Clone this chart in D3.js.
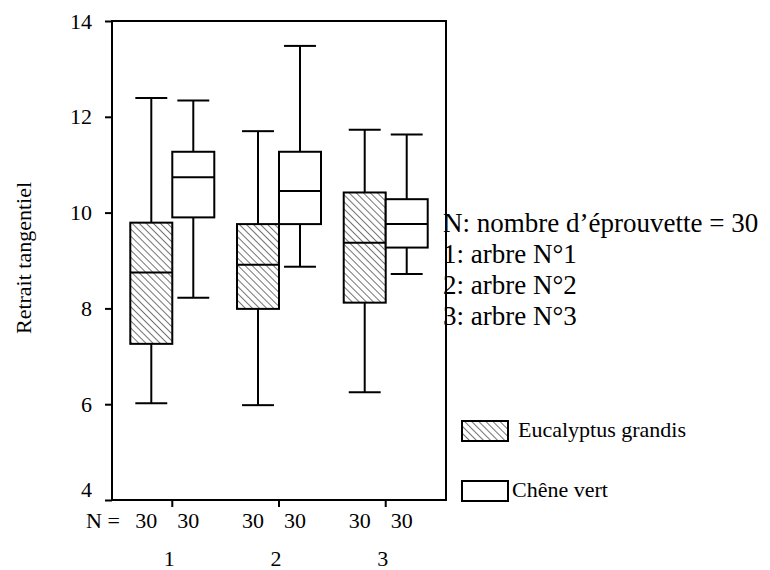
<!DOCTYPE html>
<html><head><meta charset="utf-8">
<script src="https://cdn.jsdelivr.net/npm/d3@7"></script>
<style>
body{margin:0;background:#fff}
text{font-family:"Liberation Serif","Times New Roman",serif;fill:#000}
</style>
</head><body>
<svg id="c" width="770" height="570"></svg>
<script>
// ---- data ----
const categories = ["1", "2", "3"];
const seriesNames = ["Eucalyptus grandis", "Chêne vert"];
// five-number summaries [min, q1, median, q3, max] per category
const eucalyptus = [
  [6.02, 7.26, 8.75, 9.79, 12.39],
  [5.98, 7.99, 8.91, 9.76, 11.70],
  [6.25, 8.12, 9.37, 10.42, 11.73]
];
const cheneVert = [
  [8.22, 9.90, 10.74, 11.27, 12.34],
  [8.87, 9.76, 10.45, 11.27, 13.48],
  [8.72, 9.27, 9.76, 10.28, 11.63]
];
const nCounts = [[30, 30], [30, 30], [30, 30]];
const yTicks = [4, 6, 8, 10, 12, 14];
const yTitle = "Retrait tangentiel";
const notes = ["N: nombre d\u2019éprouvette = 30", "1: arbre N°1", "2: arbre N°2", "3: arbre N°3"];

// ---- layout ----
const svg = d3.select("#c");
const L = 112, R = 446, T = 21, B = 500;
const y = d3.scaleLinear().domain([4, 14]).range([B, T]);
const x = d3.scaleBand().domain(categories).range([L, R]).paddingInner(0).paddingOuter(0.065);
const boxW = 42;
const xs = d3.scaleBand().domain(seriesNames).range([-boxW, boxW]);

const defs = svg.append("defs");
const pat = defs.append("pattern").attr("id", "hatch").attr("patternUnits", "userSpaceOnUse")
  .attr("width", 5).attr("height", 5).attr("patternTransform", "rotate(-45)");
pat.append("rect").attr("width", 5).attr("height", 5).attr("fill", "#fff");
pat.append("line").attr("x1", 0).attr("y1", 0).attr("x2", 0).attr("y2", 5)
  .attr("stroke", "#000").attr("stroke-width", 1.1);

// notes (drawn before frame so the frame line overlays them)
svg.append("g").selectAll("text").data(notes).join("text")
  .attr("x", 443).attr("y", (d, i) => 232 + i * 31)
  .attr("font-size", 27).text(d => d);

// boxes
const series = [eucalyptus, cheneVert];
const fills = ["url(#hatch)", "#fff"];
const g = svg.append("g");
categories.forEach((c, ci) => {
  const cx = x(c) + x.bandwidth() / 2;
  seriesNames.forEach((s, si) => {
    const [mn, q1, md, q3, mx] = series[si][ci];
    const x0 = cx + xs(s), w = xs.bandwidth(), mid = x0 + w / 2, cap = w * 0.38;
    const gg = g.append("g").attr("stroke", "#000").attr("stroke-width", 2);
    gg.append("line").attr("x1", mid).attr("x2", mid).attr("y1", y(mx)).attr("y2", y(q3));
    gg.append("line").attr("x1", mid).attr("x2", mid).attr("y1", y(q1)).attr("y2", y(mn));
    gg.append("line").attr("x1", mid - cap).attr("x2", mid + cap).attr("y1", y(mx)).attr("y2", y(mx));
    gg.append("line").attr("x1", mid - cap).attr("x2", mid + cap).attr("y1", y(mn)).attr("y2", y(mn));
    gg.append("rect").attr("x", x0).attr("width", w).attr("y", y(q3)).attr("height", y(q1) - y(q3))
      .attr("fill", fills[si]);
    gg.append("line").attr("x1", x0).attr("x2", x0 + w).attr("y1", y(md)).attr("y2", y(md));
  });
});

// frame
svg.append("rect").attr("x", L).attr("y", T).attr("width", R - L).attr("height", B - T)
  .attr("fill", "none").attr("stroke", "#000").attr("stroke-width", 2);

// y axis
const ya = svg.append("g").attr("transform", `translate(${L},0)`)
  .call(d3.axisLeft(y).tickValues(yTicks).tickSize(7).tickPadding(13).tickFormat(d3.format("d")));
ya.select(".domain").remove();
ya.selectAll(".tick line").attr("stroke", "#000").attr("stroke-width", 2);
ya.selectAll(".tick text").attr("font-size", 22).attr("font-family", "Liberation Serif")
  .attr("fill", "#000").attr("dy", d => d === 4 ? "-0.15em" : "0.32em");

// x axis ticks
const xa = svg.append("g").attr("transform", `translate(0,${B})`)
  .call(d3.axisBottom(x).tickSize(7).tickPadding(43));
xa.select(".domain").remove();
xa.selectAll(".tick line").attr("stroke", "#000").attr("stroke-width", 2);
xa.selectAll(".tick text").attr("font-size", 22).attr("font-family", "Liberation Serif")
  .attr("fill", "#000").attr("dx", -3);

// N row
svg.append("text").attr("x", 86).attr("y", 528).attr("font-size", 22).text("N =");
categories.forEach((c, ci) => {
  const cx = x(c) + x.bandwidth() / 2;
  seriesNames.forEach((s, si) => {
    svg.append("text").attr("x", cx + xs(s) + xs.bandwidth() / 2 - 5).attr("y", 528)
      .attr("text-anchor", "middle").attr("font-size", 22).text(nCounts[ci][si]);
  });
});

// y title
svg.append("text").attr("transform", "translate(31,258) rotate(-90)")
  .attr("text-anchor", "middle").attr("font-size", 22).text(yTitle);

// legend
const lg = svg.append("g");
const legendY = [421, 481];
const legendTX = [518, 512];
seriesNames.forEach((s, i) => {
  lg.append("rect").attr("x", 462).attr("y", legendY[i]).attr("width", 46).attr("height", 20)
    .attr("fill", fills[i]).attr("stroke", "#000").attr("stroke-width", 2);
  lg.append("text").attr("x", legendTX[i]).attr("y", legendY[i] + 16).attr("font-size", 22).text(s);
});
</script>
</body></html>
